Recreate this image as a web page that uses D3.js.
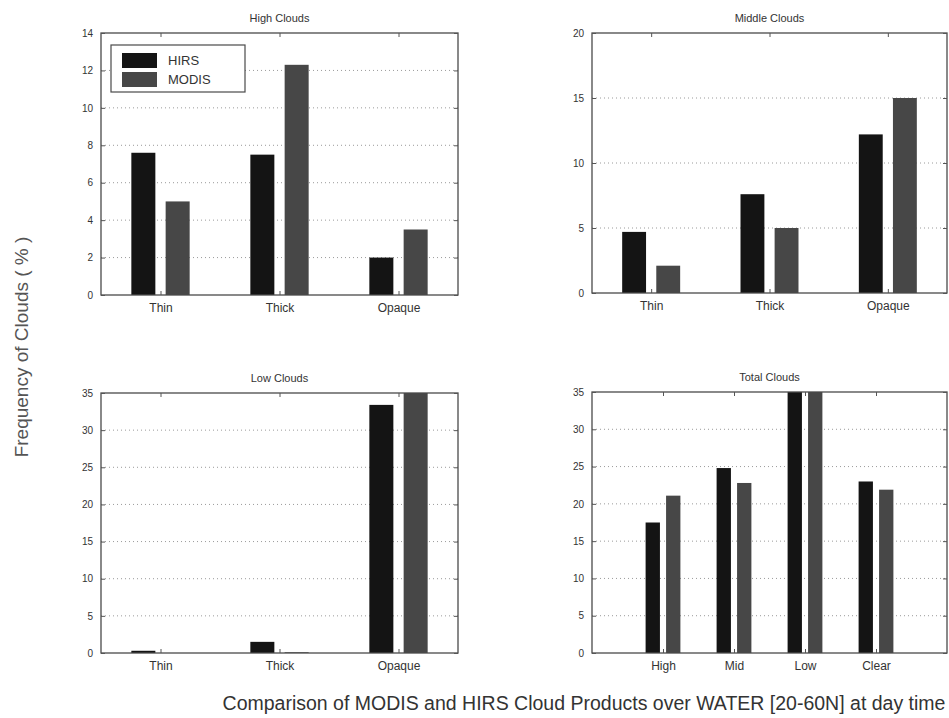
<!DOCTYPE html>
<html>
<head>
<meta charset="utf-8">
<script src="https://cdn.jsdelivr.net/npm/d3@7"></script>
<style>
  body { margin: 0; background: #fff; }
  svg { display: block; font-family: "Liberation Sans", Arial, sans-serif; }
</style>
</head>
<body>
<svg id="chart" width="949" height="718"></svg>
<script>
// data
const seriesNames = ["HIRS", "MODIS"];
const layerCats = ["Thin", "Thick", "Opaque"];
const totalCats = ["High", "Mid", "Low", "Clear"];

const highHIRS = [7.6, 7.5, 2.0];
const highMODIS = [5.0, 12.3, 3.5];
const midHIRS = [4.7, 7.6, 12.2];
const midMODIS = [2.1, 5.0, 15.0];
const lowHIRS = [0.3, 1.5, 33.4];
const lowMODIS = [0.0, 0.1, 35.3];
const totalHIRS = [17.5, 24.8, 35.2, 23.0];
const totalMODIS = [21.1, 22.8, 35.5, 21.9];

const highTicks = [0, 2, 4, 6, 8, 10, 12, 14];
const midTicks = [0, 5, 10, 15, 20];
const lowTicks = [0, 5, 10, 15, 20, 25, 30, 35];

const svg = d3.select("#chart");
const color = d3.scaleOrdinal(seriesNames, ["#141414", "#474747"]);

const panels = [
  {title: "High Clouds", cats: layerCats, vals: [highHIRS, highMODIS], ticks: highTicks, xlim: [0.5, 3.5], box: [101, 33, 458, 295], legend: true},
  {title: "Middle Clouds", cats: layerCats, vals: [midHIRS, midMODIS], ticks: midTicks, xlim: [0.5, 3.5], box: [592, 33, 947, 293]},
  {title: "Low Clouds", cats: layerCats, vals: [lowHIRS, lowMODIS], ticks: lowTicks, xlim: [0.5, 3.5], box: [101, 393, 458, 653]},
  {title: "Total Clouds", cats: totalCats, vals: [totalHIRS, totalMODIS], ticks: lowTicks, xlim: [0, 5], box: [592, 392, 947, 653]}
];

panels.forEach((p, pi) => {
  const [x0, y0, x1, y1] = p.box;
  const x = d3.scaleLinear().domain(p.xlim).range([x0, x1]);
  const y = d3.scaleLinear().domain([0, d3.max(p.ticks)]).range([y1, y0]);
  const unit = x(1) - x(0);
  const inner = d3.scaleBand().domain(seriesNames)
    .range([-0.245 * unit, 0.245 * unit]).paddingInner(0.3);

  const g = svg.append("g");

  // clip so bars stop at the top of the box
  g.append("clipPath").attr("id", "clip" + pi)
    .append("rect").attr("x", x0).attr("y", y0).attr("width", x1 - x0).attr("height", y1 - y0);

  // grid
  g.selectAll(".grid").data(p.ticks.slice(1, -1)).join("line")
    .attr("x1", x0).attr("x2", x1)
    .attr("y1", d => y(d)).attr("y2", d => y(d))
    .attr("stroke", "#9a9a9a").attr("stroke-width", 1)
    .attr("stroke-dasharray", "1,3");

  // bars
  const bars = g.append("g").attr("clip-path", `url(#clip${pi})`);
  seriesNames.forEach((s, si) => {
    bars.selectAll(".b" + si).data(p.vals[si]).join("rect")
      .attr("x", (d, i) => x(i + 1) + inner(s))
      .attr("y", d => y(d))
      .attr("width", inner.bandwidth())
      .attr("height", d => y(0) - y(d))
      .attr("fill", color(s));
  });

  // box
  g.append("rect").attr("x", x0).attr("y", y0)
    .attr("width", x1 - x0).attr("height", y1 - y0)
    .attr("fill", "none").attr("stroke", "#4a4a4a").attr("stroke-width", 1.3);

  // y axis (left, ticks inside) and mirrored ticks on the right
  const yAxis = g.append("g").attr("transform", `translate(${x0},0)`)
    .call(d3.axisLeft(y).tickValues(p.ticks).tickSize(-4).tickPadding(8));
  const yAxisR = g.append("g").attr("transform", `translate(${x1},0)`)
    .call(d3.axisRight(y).tickValues(p.ticks).tickSize(-4).tickFormat(""));

  // x axis with category labels
  const xAxis = g.append("g").attr("transform", `translate(0,${y1})`)
    .call(d3.axisBottom(x).tickValues(p.cats.map((c, i) => i + 1))
      .tickFormat((d, i) => p.cats[i]).tickSize(-4).tickPadding(8));
  const xAxisT = g.append("g").attr("transform", `translate(0,${y0})`)
    .call(d3.axisTop(x).tickValues(p.cats.map((c, i) => i + 1)).tickSize(-4).tickFormat(""));

  [yAxis, yAxisR, xAxis, xAxisT].forEach(a => {
    a.select(".domain").remove();
    a.selectAll(".tick line").attr("stroke", "#555");
    a.selectAll("text").attr("fill", "#333").attr("font-size", 10);
  });
  xAxis.selectAll("text").attr("font-size", 12);

  // title
  g.append("text").attr("x", (x0 + x1) / 2).attr("y", y0 - 11)
    .attr("text-anchor", "middle").attr("font-size", 11).attr("fill", "#333")
    .text(p.title);

  if (p.legend) {
    const lx = 111, ly = 45;
    const lg = g.append("g");
    lg.append("rect").attr("x", lx).attr("y", ly).attr("width", 134).attr("height", 47)
      .attr("fill", "#fff").attr("stroke", "#4a4a4a").attr("stroke-width", 1.2);
    seriesNames.forEach((s, si) => {
      lg.append("rect").attr("x", lx + 11).attr("y", ly + 8 + si * 19)
        .attr("width", 35).attr("height", 15).attr("fill", color(s));
      lg.append("text").attr("x", lx + 57).attr("y", ly + 20 + si * 19)
        .attr("font-size", 13).attr("fill", "#333").text(s);
    });
  }
});

// y label shared by all panels
svg.append("text")
  .attr("transform", "translate(28,347) rotate(-90)")
  .attr("text-anchor", "middle").attr("font-size", 19).attr("fill", "#555")
  .text("Frequency of Clouds ( % )");

// caption
svg.append("text").attr("x", 584).attr("y", 710)
  .attr("text-anchor", "middle").attr("font-size", 19.5).attr("fill", "#333")
  .text("Comparison of MODIS and HIRS Cloud Products over WATER [20-60N] at day time");
</script>
</body>
</html>
